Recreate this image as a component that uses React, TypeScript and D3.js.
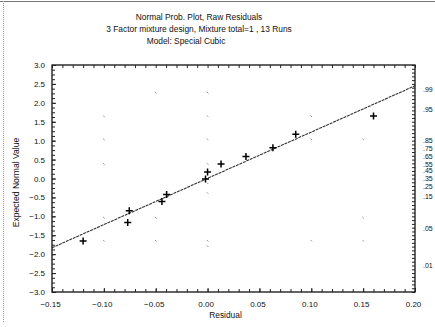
import React, { useEffect, useRef } from 'react'
import * as d3 from 'd3'

// residual / expected normal value pairs
const residuals = [-0.12, -0.077, -0.0755, -0.044, -0.0395, -0.002, 0.0, 0.013, 0.037, 0.063, 0.085, 0.16]
const expectedNormal = [-1.65, -1.16, -0.85, -0.61, -0.42, -0.01, 0.17, 0.38, 0.58, 0.81, 1.17, 1.65]

// fitted reference line: expected = intercept + slope * residual
const fitSlope = 12.23
const fitIntercept = 0.004

const xTicks = [-0.15, -0.1, -0.05, 0.0, 0.05, 0.1, 0.15, 0.2]
const yTicks = [3, 2.5, 2, 1.5, 1, 0.5, 0, -0.5, -1, -1.5, -2, -2.5, -3]

// right axis: cumulative probability labels and where they sit (in expected normal units)
const probLabels = ['.99', '.95', '.85', '.75', '.65', '.55', '.45', '.35', '.25', '.15', '.05', '.01']
const probLabelZ = [2.34, 1.81, 0.99, 0.78, 0.57, 0.38, 0.2, 0.01, -0.2, -0.49, -1.31, -2.29]

// faint remains of the dotted grid: [residual, expected normal]
const gridDots: [number, number][] = [
  [-0.1, 1.645], [-0.1, 1.036], [-0.1, 0.385], [-0.1, -1.036], [-0.1, -1.645],
  [-0.05, 2.27], [-0.05, -1.036], [-0.05, -1.645],
  [0, 2.27], [0, 1.645], [0, 1.036], [0, 0.385], [0, -0.126], [0, -0.385], [0, -1.645], [0, -1.79],
  [0.1, 1.645], [0.1, 1.036], [0.1, -1.645],
  [0.15, 1.036], [0.15, -1.036], [0.15, -1.645],
]

const titleLines = [
  'Normal Prob. Plot, Raw Residuals',
  '3 Factor mixture design, Mixture total=1 , 13 Runs',
  'Model: Special Cubic',
]

const W = 435
const H = 327
const margin = { top: 65, right: 20, bottom: 35, left: 52 }
const FONT = '"Liberation Sans", Arial, sans-serif'

const App: React.FC = () => {
  const svgRef = useRef<SVGSVGElement>(null)

  useEffect(() => {
    if (!svgRef.current) return
    const svg = d3.select(svgRef.current)
    svg.selectAll('*').remove()

    const x = d3.scaleLinear().domain([-0.15, 0.2]).range([margin.left, W - margin.right])
    const y = d3.scaleLinear().domain([-3, 3]).range([H - margin.bottom, margin.top])
    const [x0, x1] = x.range()
    const [y0, y1] = y.range()

    svg.append('rect').attr('width', W).attr('height', H).attr('fill', '#fff')

    // scan frame
    svg.append('line').attr('x1', 0).attr('x2', W).attr('y1', 1.5).attr('y2', 1.5)
      .attr('stroke', '#777').attr('stroke-width', 1)
    svg.append('line').attr('x1', 3.5).attr('x2', 3.5).attr('y1', 1).attr('y2', 322)
      .attr('stroke', '#999').attr('stroke-width', 1).attr('stroke-dasharray', '1,1')

    // titles
    svg.append('g').selectAll('text').data(titleLines).enter().append('text')
      .attr('x', (_, i) => (i === 2 ? 186 : 199)).attr('y', (_, i) => 20 + i * 12)
      .attr('text-anchor', 'middle')
      .style('font-family', FONT).style('font-size', '8.4px').attr('fill', '#111')
      .text((d) => d)

    // grid dots
    svg.append('g').selectAll('path').data(gridDots).enter().append('path')
      .attr('d', (d) => `M${x(d[0]) - 0.8},${y(d[1]) - 0.8}l1.6,1.6`)
      .attr('stroke', '#999').attr('stroke-width', 1)

    // fitted line
    const line = d3.line<number>().x((d) => x(d)).y((d) => y(fitIntercept + fitSlope * d))
    svg.append('path').datum(x.domain()).attr('d', line)
      .attr('fill', 'none').attr('stroke', '#333').attr('stroke-width', 1.1)
      .attr('stroke-dasharray', '3,0.8')

    // frame
    svg.append('rect').attr('x', x0).attr('y', y1).attr('width', x1 - x0).attr('height', y0 - y1)
      .attr('fill', 'none').attr('stroke', '#111').attr('stroke-width', 1.3)

    // bottom axis
    const bottom = svg.append('g').attr('transform', `translate(0,${y0})`)
      .call(d3.axisBottom(x).tickValues(d3.range(-0.15, 0.2001, 0.01)).tickSize(-3).tickFormat(() => ''))
    bottom.select('.domain').remove()
    const bottomMajor = svg.append('g').attr('transform', `translate(0,${y0})`)
      .call(d3.axisBottom(x).tickValues(xTicks).tickSize(-4).tickPadding(9).tickFormat(d3.format('.2f')))
    bottomMajor.select('.domain').remove()
    bottomMajor.selectAll('text').attr('dx', -2).style('font-family', FONT).style('font-size', '8px').attr('fill', '#111')

    // top axis ticks
    const top = svg.append('g').attr('transform', `translate(0,${y1})`)
      .call(d3.axisTop(x).tickValues(d3.range(-0.15, 0.2001, 0.01)).tickSize(-3).tickFormat(() => ''))
    top.select('.domain').remove()

    // left axis
    const leftMinor = svg.append('g').attr('transform', `translate(${x0},0)`)
      .call(d3.axisLeft(y).tickValues(d3.range(-3, 3.001, 0.125)).tickSize(-3).tickFormat(() => ''))
    leftMinor.select('.domain').remove()
    const left = svg.append('g').attr('transform', `translate(${x0},0)`)
      .call(d3.axisLeft(y).tickValues(yTicks).tickSize(-4).tickPadding(7).tickFormat(d3.format('.1f')))
    left.select('.domain').remove()
    left.selectAll('text').style('font-family', FONT).style('font-size', '8px').attr('fill', '#111')

    // right axis
    const rightMinor = svg.append('g').attr('transform', `translate(${x1},0)`)
      .call(d3.axisRight(y).tickValues(d3.range(-3, 3.001, 0.1)).tickSize(-3).tickFormat(() => ''))
    rightMinor.select('.domain').remove()
    svg.append('g').selectAll('text').data(probLabels).enter().append('text')
      .attr('x', x1 + 8).attr('y', (_, i) => y(probLabelZ[i])).attr('dy', '0.35em')
      .style('font-family', FONT).style('font-size', '7px').attr('fill', '#111')
      .text((d) => d)

    svg.selectAll('.tick line').attr('stroke', '#222')

    // points
    svg.append('g').selectAll('path').data(residuals).enter().append('path')
      .attr('transform', (d, i) => `translate(${x(d)},${y(expectedNormal[i])})`)
      .attr('d', 'M-3.5,0H3.5M0,-3.5V3.5')
      .attr('stroke', '#000').attr('stroke-width', 1.5)

    // axis titles
    svg.append('text').attr('x', (x0 + x1) / 2 - 8).attr('y', H - 9).attr('text-anchor', 'middle')
      .style('font-family', FONT).style('font-size', '8.4px').attr('fill', '#111').text('Residual')
    svg.append('text').attr('transform', `translate(19,${(y0 + y1) / 2 + 4}) rotate(-90)`)
      .attr('text-anchor', 'middle')
      .style('font-family', FONT).style('font-size', '8.6px').attr('fill', '#111')
      .text('Expected Normal Value')
  }, [])

  return <svg ref={svgRef} width={W} height={H} style={{ position: 'absolute', left: 0, top: 0 }} />
}

export default App
